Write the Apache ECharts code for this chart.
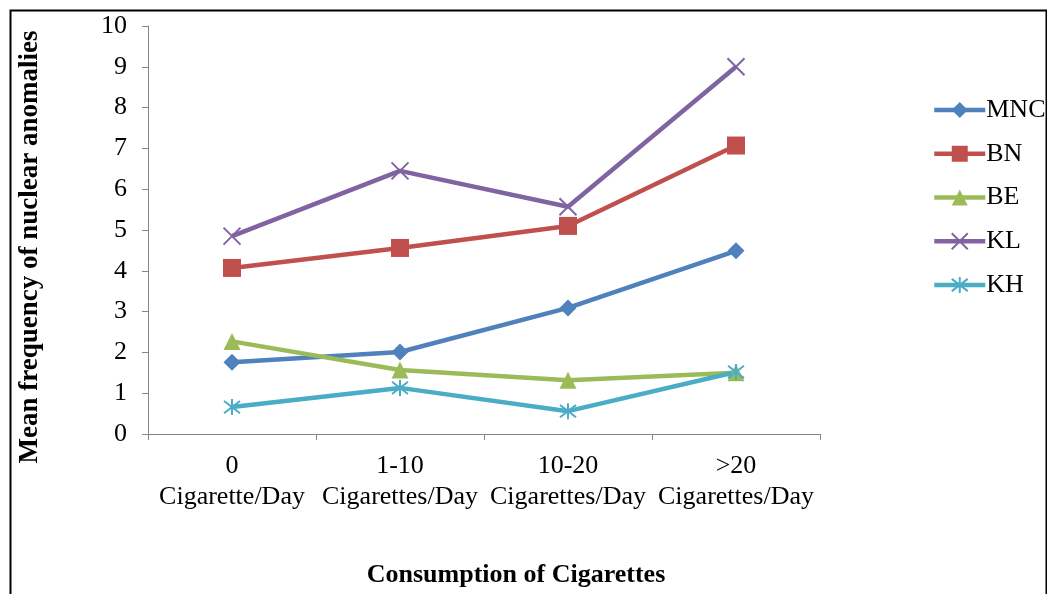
<!DOCTYPE html>
<html><head><meta charset="utf-8">
<script src="https://cdn.jsdelivr.net/npm/echarts@6/dist/echarts.min.js"></script>
<style>html,body{margin:0;padding:0;background:#fff}#c{width:1047px;height:594px}</style>
</head><body><div id="c"></div>
<script>
const categories = ['0\nCigarette/Day', '1-10\nCigarettes/Day', '10-20\nCigarettes/Day', '>20\nCigarettes/Day'];
const yTicks = [0,1,2,3,4,5,6,7,8,9,10];
const MNC = [1.76, 2.01, 3.09, 4.49];
const BN  = [4.07, 4.56, 5.10, 7.07];
const BE  = [2.27, 1.57, 1.32, 1.50];
const KL  = [4.85, 6.45, 5.57, 9.00];
const KH  = [0.66, 1.13, 0.56, 1.52];
const seriesNames = ['MNC','BN','BE','KL','KH'];
const seriesData = [MNC, BN, BE, KL, KH];
const colors = ['#4F81BD','#C0504D','#9BBB59','#8064A2','#4BACC6'];
const xPath = 'path://M0,0L10,10M10,0L0,10';
const starPath = 'path://M0,0L10,10M10,0L0,10M5,-1.5L5,11.5';
const symbols = ['diamond','rect','triangle', xPath, starPath];
const sizes = [17, 18, 17, 17, 16];
const FONT = '"Liberation Serif", "Times New Roman", serif';

const chart = echarts.init(document.getElementById('c'));
chart.setOption({
  animation: false,
  grid: {left: 148, right: 227, top: 26, bottom: 160, containLabel: false},
  xAxis: {
    type: 'category', data: categories, boundaryGap: true,
    axisLine: {lineStyle: {color: '#868686', width: 1}},
    axisTick: {show: true, length: 6, interval: 0, alignWithLabel: false, lineStyle: {color: '#868686'}},
    axisLabel: {fontFamily: FONT, fontSize: 26, color: '#000', lineHeight: 31, margin: 17, interval: 0}
  },
  yAxis: {
    type: 'value', min: 0, max: 10, interval: 1,
    splitLine: {show: false},
    axisLine: {show: true, lineStyle: {color: '#868686', width: 1}},
    axisTick: {show: true, length: 6, lineStyle: {color: '#868686'}},
    axisLabel: {fontFamily: FONT, fontSize: 26, color: '#000', margin: 21}
  },
  legend: {
    orient: 'vertical', left: 927, top: 92, itemGap: 17.75, itemWidth: 51, itemHeight: 20,
    textStyle: {fontFamily: FONT, fontSize: 26, color: '#000', padding: [0,0,0,-4]},
    data: seriesNames.map((n, i) => ({name: n, lineStyle: {width: 4.5, color: colors[i]}}))
  },
  graphic: [
    {type: 'rect', left: 8, top: 8, shape: {width: 1036, height: 600}, style: {fill: 'none', stroke: '#000', lineWidth: 2}, silent: true},
    {type: 'text', x: 30, y: 247, rotation: Math.PI/2, style: {text: 'Mean frequency of nuclear anomalies', font: 'bold 27px ' + FONT, fill: '#000', align: 'center', verticalAlign: 'middle'}},
    {type: 'text', x: 516, y: 575, style: {text: 'Consumption of Cigarettes', font: 'bold 26px ' + FONT, fill: '#000', align: 'center', verticalAlign: 'middle'}}
  ],
  series: seriesNames.map((n, i) => ({
    name: n, type: 'line', data: seriesData[i],
    symbol: symbols[i], symbolSize: sizes[i], showAllSymbol: true,
    lineStyle: {color: colors[i], width: 4.5},
    itemStyle: {color: colors[i], borderColor: colors[i], borderWidth: i >= 3 ? 2 : 0}
  }))
});
</script></body></html>
